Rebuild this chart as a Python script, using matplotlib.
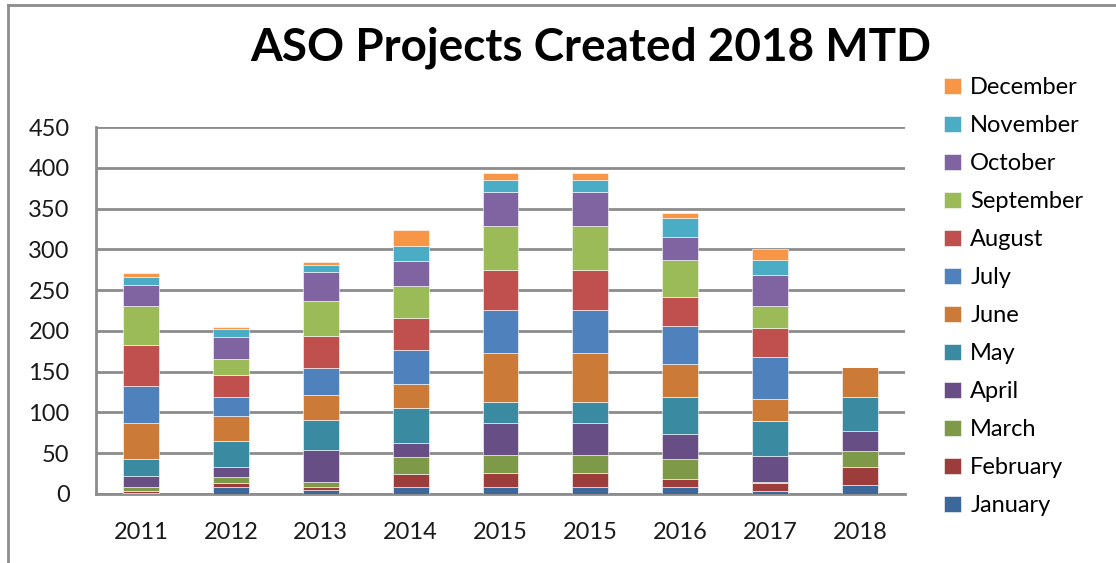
import numpy as np
import matplotlib.pyplot as plt

plt.rcParams["font.family"] = ["Lato", "DejaVu Sans"]

years = ["2011", "2012", "2013", "2014", "2015", "2015", "2016", "2017", "2018"]
months = ["January", "February", "March", "April", "May", "June",
          "July", "August", "September", "October", "November", "December"]

# values per month, one entry per year column
january   = [1, 8, 5, 9, 9, 9, 9, 4, 11]
february  = [3, 6, 3, 15, 17, 17, 10, 10, 22]
march     = [5, 7, 7, 21, 22, 22, 24, 1, 20]
april     = [13, 12, 39, 18, 39, 39, 30, 31, 24]
may       = [21, 32, 37, 43, 26, 26, 46, 43, 42]
june      = [44, 31, 30, 29, 60, 60, 41, 28, 37]
july      = [46, 23, 34, 42, 53, 53, 46, 51, 0]
august    = [50, 27, 39, 39, 49, 49, 35, 35, 0]
september = [48, 20, 43, 39, 54, 54, 46, 28, 0]
october   = [25, 26, 35, 31, 41, 41, 28, 37, 0]
november  = [10, 10, 9, 18, 15, 15, 24, 19, 0]
december  = [5, 3, 3, 20, 9, 9, 6, 13, 0]

series = [january, february, march, april, may, june,
          july, august, september, october, november, december]
colors = ["#3C679A", "#9C3D3B", "#7E9A48", "#674E85", "#3A8BA2", "#CC7A38",
          "#4F81BD", "#C0504D", "#9BBB59", "#8064A2", "#4BACC6", "#F79646"]

fig = plt.figure(figsize=(11.16, 5.63), dpi=100)
ax = fig.add_axes([96 / 1116, 69 / 563, 809 / 1116, 367 / 563])

x = np.arange(len(years))
bottom = np.zeros(len(years))
handles = []
for name, vals, c in zip(months, series, colors):
    b = ax.bar(x, vals, width=0.4, bottom=bottom, color=c, label=name,
               edgecolor="white", linewidth=0.4, zorder=3)
    handles.append(b)
    bottom += np.array(vals)

ax.set_xlim(-0.5, len(years) - 0.5)
ax.set_ylim(0, 450)
ax.set_yticks(range(0, 451, 50))
ax.set_xticks(x)
ax.set_xticklabels(years)
ax.yaxis.grid(True, color="#8C8C8C", linewidth=2, zorder=0)
ax.tick_params(axis="both", length=0, labelsize=17, colors="#1a1a1a")
ax.tick_params(axis="y", pad=19)
ax.tick_params(axis="x", pad=20)
for s in ["top", "right"]:
    ax.spines[s].set_visible(False)
for s in ["left", "bottom"]:
    ax.spines[s].set_color("#8C8C8C")
    ax.spines[s].set_linewidth(2)

fig.text(0.529, 0.915, "ASO Projects Created 2018 MTD", ha="center", va="center",
         fontsize=33, fontweight="bold")

fig.legend(handles[::-1], months[::-1], loc="upper left",
           bbox_to_anchor=(923 / 1116, 1 - 56 / 563), frameon=False,
           fontsize=17, handlelength=0.7, handleheight=0.7,
           handletextpad=0.4, labelspacing=0.72)

# outer border (top and left edges visible in the reference)
fig.add_artist(plt.Line2D([8 / 1116, 1], [1 - 5 / 563, 1 - 5 / 563],
                          transform=fig.transFigure, color="#8C8C8C", linewidth=2))
fig.add_artist(plt.Line2D([8 / 1116, 8 / 1116], [0, 1 - 5 / 563],
                          transform=fig.transFigure, color="#8C8C8C", linewidth=2))

fig.savefig("out.png", dpi=100)
